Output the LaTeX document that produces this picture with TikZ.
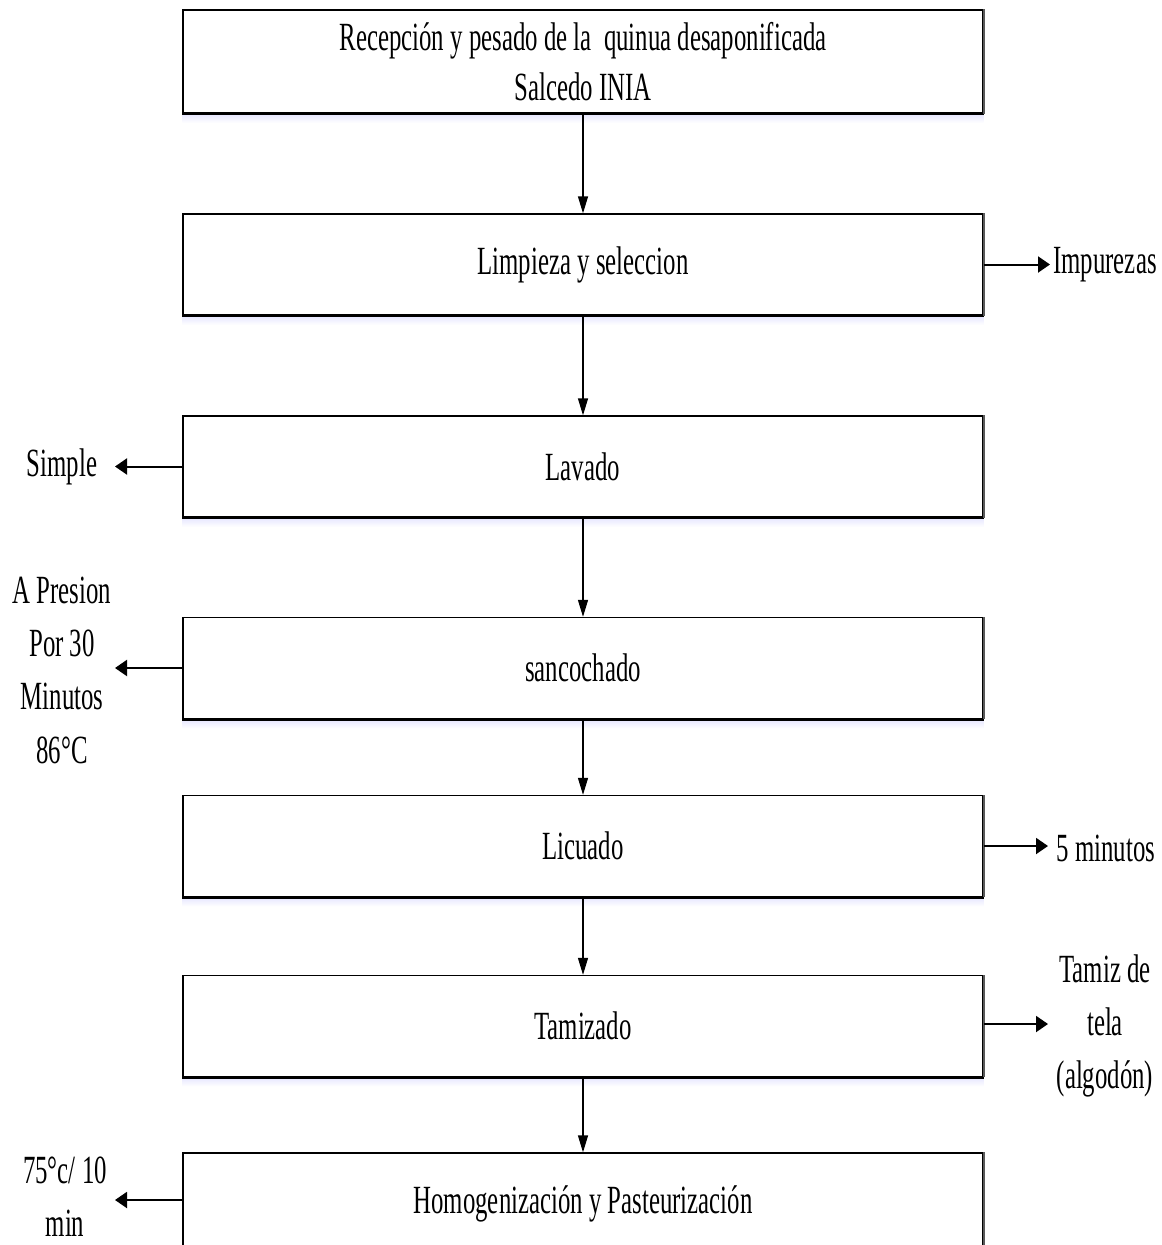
\documentclass[tikz,border=0pt]{standalone}
\usepackage{fontspec}
\setmainfont{Liberation Serif}[FakeStretch=0.62]
\usetikzlibrary{arrows.meta}
\begin{document}
\begin{tikzpicture}[x=0.75pt,y=-0.75pt,
  procbox/.style={draw=black, line width=1pt, fill=white, minimum width=600pt,
    minimum height=75.75pt, inner sep=0pt, align=center,
    font=\fontsize{30}{37.5}\selectfont},
  sidetext/.style={align=center, inner sep=0pt, font=\fontsize{30}{40}\selectfont},
  flow/.style={draw=black, line width=1pt, -{Triangle[length=12.75pt,width=7.5pt]}},
  sideflow/.style={draw=black, line width=1.5pt, -{Triangle[length=9pt,width=12pt]}}]
\useasboundingbox (0,0) rectangle (1161,1245);
\clip (0,0) rectangle (1161,1245);

% process boxes
\node[procbox, minimum height=77.25pt] (b1) at (583,61.5) {Recepción y pesado de la\ \ quinua desaponificada\\Salcedo INIA};
\node[procbox] (b2) at (583,264.5) {Limpieza y seleccion};
\node[procbox] (b3) at (583,466.5) {Lavado};
\node[procbox] (b4) at (583,668) {sancochado};
\node[procbox] (b5) at (583,846) {Licuado};
\node[procbox] (b6) at (583,1026) {Tamizado};
\node[procbox] (b7) at (583,1203.5) {Homogenización y Pasteurización};

% shadow effect on boxes
\foreach \b in {b1,b2,b3,b4,b5,b6,b7}{
  \shade[top color=blue!10, bottom color=white] (\b.south west) rectangle ([yshift=-7pt]\b.south east);
  \draw[line width=2.2pt] (\b.south west) -- (\b.south east);
  \draw[line width=1.6pt, black!65] (\b.south east) -- (\b.north east);
}

% main flow
\draw[flow] (b1.south) -- (b2.north);
\draw[flow] (b2.south) -- (b3.north);
\draw[flow] (b3.south) -- (b4.north);
\draw[flow] (b4.south) -- (b5.north);
\draw[flow] (b5.south) -- (b6.north);
\draw[flow] (b6.south) -- (b7.north);

% side labels
\node[sidetext] (imp) at (1105,265) {Impurezas};
\node[sidetext] (sim) at (62,467) {Simple};
\node[sidetext] (pre) at (62,670) {A Presion\\Por 30\\Minutos\\86°C};
\node[sidetext] (min) at (1106,848) {5 minutos};
\node[sidetext] (tam) at (1105,1026) {Tamiz de\\tela\\(algodón)};
\node[sidetext] (tem) at (65,1197) {75°c/ 10\\min};

% side arrow ends
\coordinate (eimp) at (1050,264.5);
\coordinate (esim) at (115,466.5);
\coordinate (epre) at (115,668);
\coordinate (emin) at (1048,846);
\coordinate (etam) at (1048,1024);
\coordinate (etem) at (115,1200);

\draw[sideflow] (b2.east) -- (eimp);
\draw[sideflow] (b3.west) -- (esim);
\draw[sideflow] (b4.west) -- (epre);
\draw[sideflow] (b5.east) -- (emin);
\draw[sideflow] (b6.east |- etam) -- (etam);
\draw[sideflow] (b7.west |- etem) -- (etem);
\end{tikzpicture}
\end{document}
